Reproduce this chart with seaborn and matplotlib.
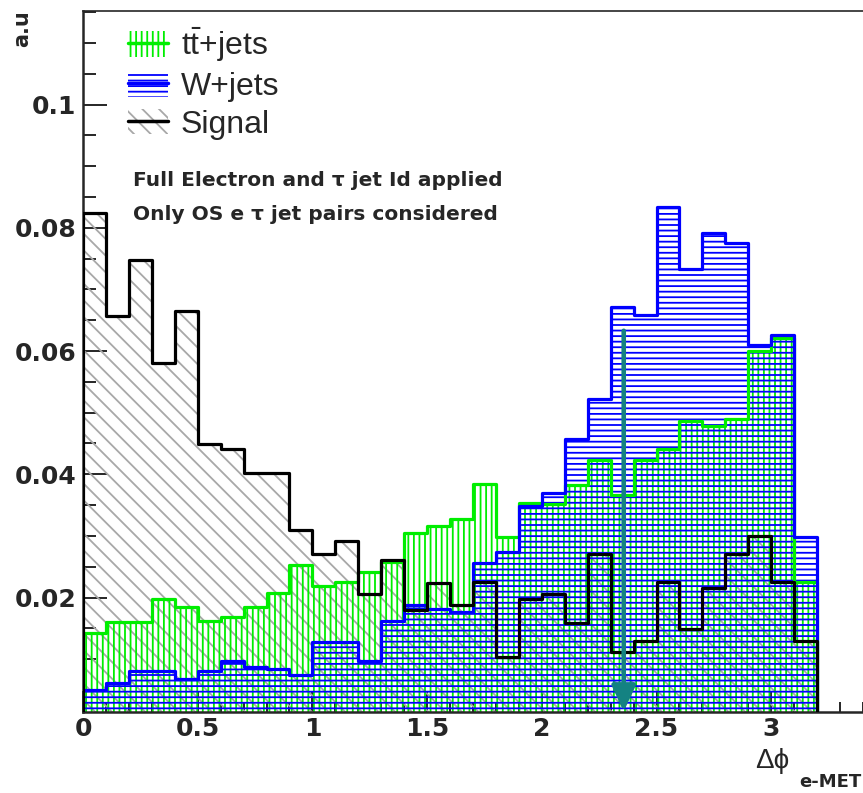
import numpy as np
import pandas as pd
import matplotlib
matplotlib.use("Agg")
import matplotlib.pyplot as plt
import seaborn as sns
from matplotlib.patches import Patch
from matplotlib.lines import Line2D
from matplotlib.ticker import MultipleLocator, FuncFormatter

# ---------------- data (32 bins of 0.1 in delta-phi, 0 .. 3.2) ----------------
bin_lo, bin_hi, n_bins = 0.0, 3.2, 32

signal = [0.0824, 0.0657, 0.0748, 0.0581, 0.0665, 0.0449, 0.0441, 0.0402,
          0.0402, 0.0309, 0.0271, 0.0291, 0.0206, 0.0261, 0.0179, 0.0224,
          0.0188, 0.0225, 0.0104, 0.0197, 0.0206, 0.0159, 0.0270, 0.0112,
          0.0130, 0.0225, 0.0149, 0.0216, 0.0271, 0.0300, 0.0225, 0.0130]

ttbar = [0.0143, 0.0160, 0.0160, 0.0198, 0.0184, 0.0162, 0.0168, 0.0184,
         0.0208, 0.0252, 0.0218, 0.0225, 0.0241, 0.0258, 0.0304, 0.0316,
         0.0327, 0.0384, 0.0299, 0.0353, 0.0352, 0.0382, 0.0423, 0.0366,
         0.0423, 0.0441, 0.0486, 0.0478, 0.0490, 0.0600, 0.0621, 0.0225]

wjets = [0.0050, 0.0062, 0.0081, 0.0081, 0.0068, 0.0080, 0.0097, 0.0087,
         0.0084, 0.0075, 0.0128, 0.0128, 0.0097, 0.0162, 0.0188, 0.0182,
         0.0177, 0.0256, 0.0274, 0.0348, 0.0370, 0.0458, 0.0522, 0.0671,
         0.0659, 0.0834, 0.0733, 0.0792, 0.0775, 0.0610, 0.0626, 0.0298]

series_labels = [r"$\mathregular{t\bar{t}}$+jets", "W+jets", "Signal"]
cut_value = 2.357      # arrow position (delta phi)
cut_arrow_top = 0.0633

annot_lines = ["Full Electron and \u03c4 jet Id applied",
               "Only OS e \u03c4 jet pairs considered"]

# ---------------- style ----------------
sns.set_style("ticks")
plt.rcParams["font.family"] = ["DejaVu Sans"]
plt.rcParams["hatch.linewidth"] = 1.3
plt.rcParams["mathtext.fontset"] = "custom"
plt.rcParams["mathtext.rm"] = "Liberation Sans"

green = "#00ee00"
blue = "#0000ff"
grey = "#a8a8a8"
teal = "#148282"

edges = np.linspace(bin_lo, bin_hi, n_bins + 1)
centers = 0.5 * (edges[:-1] + edges[1:])

W, H = 863, 793
fig = plt.figure(figsize=(W / 100, H / 100), dpi=100)
ax = fig.add_axes([83 / W, (H - 711.5) / H, 780 / W, (711.5 - 11) / H])


def hist_layer(vals, edgecolor, hatch=None, lw=0.0, z=1):
    df = pd.DataFrame({"dphi": centers, "w": vals})
    sns.histplot(data=df, x="dphi", weights="w", bins=n_bins,
                 binrange=(bin_lo, bin_hi), element="step",
                 fill=True, ax=ax, color=edgecolor)
    poly = ax.collections[-1]
    poly.set_alpha(1)
    poly.set_facecolor("none")
    poly.set_edgecolor(edgecolor)
    poly.set_linewidth(lw)
    if hatch:
        poly.set_hatch(hatch)
    poly.set_zorder(z)
    return poly


# hatched fills
hist_layer(signal, grey, hatch="\\\\", lw=0, z=1)
hist_layer(ttbar, green, hatch="|||", lw=0, z=2)
hist_layer(wjets, blue, hatch="---", lw=0, z=3)
# outlines
hist_layer(ttbar, green, lw=2.3, z=4)
hist_layer(wjets, blue, lw=2.3, z=5)
hist_layer(signal, "black", lw=2.3, z=6)

ymin, ymax = 0.0015, 0.1152
ax.set_xlim(0, 3.40)
ax.set_ylim(ymin, ymax)

# cut arrow
ax.annotate("", xy=(cut_value, ymin), xytext=(cut_value, cut_arrow_top),
            arrowprops=dict(arrowstyle="-|>,head_length=0.6,head_width=0.28",
                            color=teal, lw=3.3, shrinkA=0, shrinkB=0,
                            mutation_scale=26), zorder=8)

# axes cosmetics
ax.set_xlabel("")
ax.set_ylabel("")
ax.spines["right"].set_visible(False)
for s in ["left", "bottom"]:
    ax.spines[s].set_linewidth(1.8)
ax.spines["top"].set_linewidth(1.2)
ax.xaxis.set_major_locator(MultipleLocator(0.5))
ax.xaxis.set_minor_locator(MultipleLocator(0.1))
ax.yaxis.set_major_locator(MultipleLocator(0.02))
ax.yaxis.set_minor_locator(MultipleLocator(0.005))
fmt = FuncFormatter(lambda v, p: f"{v:g}")
ax.xaxis.set_major_formatter(fmt)
ax.yaxis.set_major_formatter(fmt)
ax.tick_params(axis="both", which="both", direction="in", top=False, right=False,
               width=1.4, zorder=10)
ax.tick_params(axis="x", which="major", length=15, pad=4)
ax.tick_params(axis="x", which="minor", length=7)
ax.tick_params(axis="y", which="major", length=17, pad=5)
ax.tick_params(axis="y", which="minor", length=9)
for lab in ax.get_xticklabels() + ax.get_yticklabels():
    lab.set_fontsize(18)
    lab.set_fontweight("bold")

# legend (ROOT style: hatched box with line)
handles = [
    (Patch(facecolor="none", edgecolor=green, hatch="|||", linewidth=0),
     Line2D([], [], color=green, lw=2.5)),
    (Patch(facecolor="none", edgecolor=blue, hatch="---", linewidth=0),
     Line2D([], [], color=blue, lw=2.5)),
    (Patch(facecolor="none", edgecolor=grey, hatch="\\\\", linewidth=0),
     Line2D([], [], color="black", lw=2.5)),
]
leg = fig.legend(handles, series_labels, loc="upper left",
                 bbox_to_anchor=(128 / W, 1 - 26 / H), frameon=False,
                 borderpad=0, borderaxespad=0, handlelength=1.25,
                 handleheight=0.85, handletextpad=0.4, labelspacing=0.22,
                 prop={"family": "Liberation Sans", "size": 23})

# annotation text
fig.text(133 / W, 1 - 180 / H, annot_lines[0], fontsize=14.5, fontweight="bold",
         va="center", ha="left")
fig.text(133 / W, 1 - 214 / H, annot_lines[1], fontsize=14.5, fontweight="bold",
         va="center", ha="left")

# axis titles
fig.text(22 / W, 1 - 29 / H, "a.u", rotation=90, fontsize=15, fontweight="bold",
         ha="center", va="center")
fig.text(755 / W, 1 - 768 / H, "\u0394\u03d5", fontsize=20, family="Liberation Sans",
         ha="left", va="baseline")
fig.text(861 / W, 6 / H, "e-MET", fontsize=13, fontweight="bold",
         ha="right", va="baseline")

fig.savefig("out.png", dpi=100)
